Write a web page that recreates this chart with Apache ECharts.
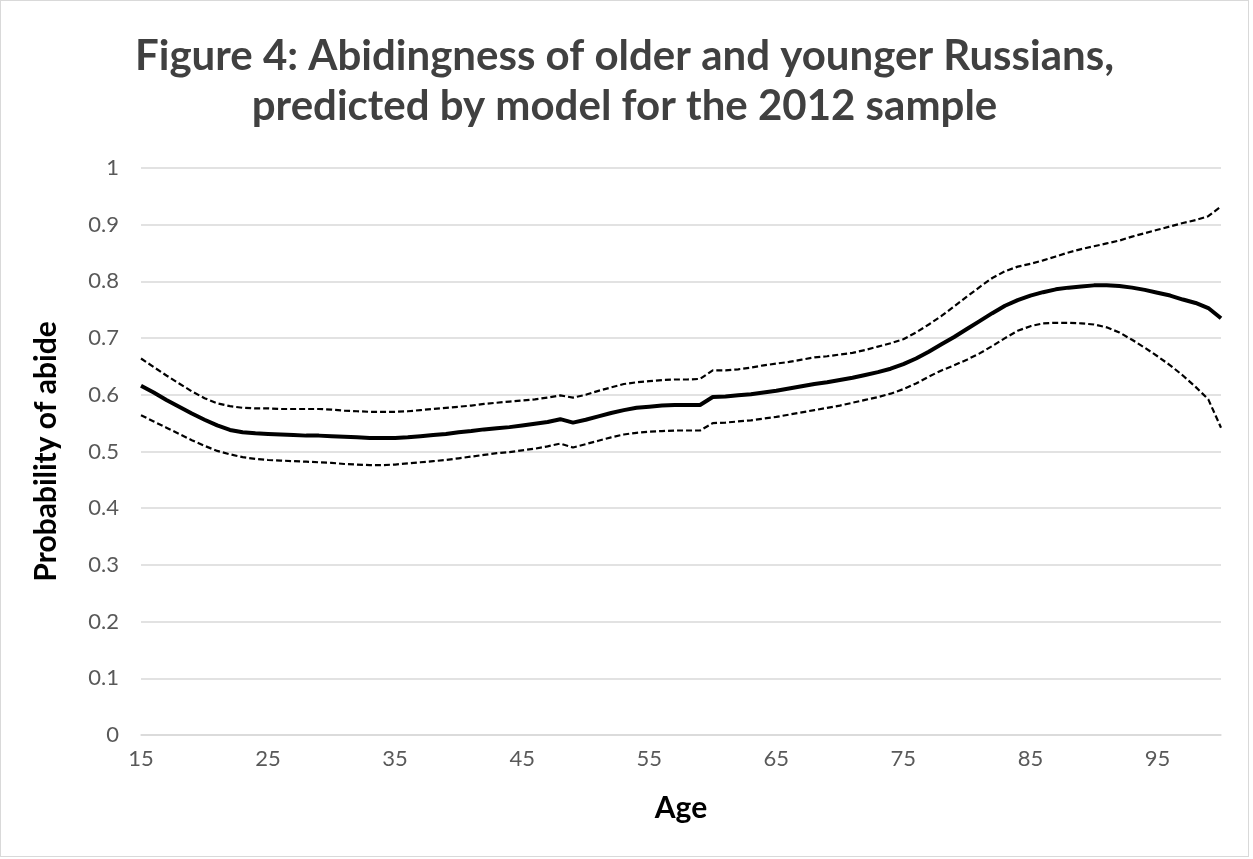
<!DOCTYPE html>
<html lang="en">
<head>
	<meta charset="UTF-8">
	<title>Figure 4: Abidingness of older and younger Russians</title>
	<script src="https://cdn.jsdelivr.net/npm/echarts@6/dist/echarts.min.js"></script>
	<style>
		body { margin: 0; background: #fff; }
		#main { width: 1247px; height: 855px; border: 1px solid #d9d9d9; }
	</style>
</head>
<body>
	<div id="main"></div>
	<script>
		// ages 15..100
		var ages = []
		for (var a = 15; a <= 100; a++) ages.push(String(a))

		// predicted probability
		var predicted = [
			0.616, 0.604, 0.591, 0.579, 0.567, 0.556, 0.546, 0.538, 0.534, 0.532,
			0.531, 0.530, 0.529, 0.528, 0.528, 0.527, 0.526, 0.525, 0.524, 0.524,
			0.524, 0.525, 0.527, 0.529, 0.531, 0.534, 0.536, 0.539, 0.541, 0.543,
			0.546, 0.549, 0.552, 0.557, 0.551, 0.556, 0.562, 0.568, 0.573, 0.577,
			0.579, 0.581, 0.582, 0.582, 0.582, 0.596, 0.597, 0.599, 0.601, 0.604,
			0.607, 0.611, 0.615, 0.619, 0.622, 0.626, 0.630, 0.635, 0.640, 0.646,
			0.654, 0.664, 0.676, 0.689, 0.702, 0.716, 0.730, 0.744, 0.757, 0.767,
			0.775, 0.781, 0.786, 0.789, 0.791, 0.793, 0.793, 0.792, 0.789, 0.785,
			0.780, 0.775, 0.768, 0.762, 0.753, 0.735
		]
		// upper bound
		var upper = [
			0.664, 0.649, 0.634, 0.620, 0.606, 0.594, 0.585, 0.580, 0.577, 0.576,
			0.576, 0.575, 0.575, 0.575, 0.575, 0.574, 0.572, 0.571, 0.570, 0.570,
			0.570, 0.571, 0.573, 0.575, 0.577, 0.579, 0.581, 0.584, 0.586, 0.588,
			0.590, 0.592, 0.595, 0.599, 0.595, 0.600, 0.607, 0.613, 0.619, 0.622,
			0.624, 0.626, 0.627, 0.627, 0.628, 0.643, 0.643, 0.645, 0.648, 0.652,
			0.655, 0.658, 0.662, 0.666, 0.668, 0.671, 0.674, 0.679, 0.685, 0.691,
			0.698, 0.710, 0.724, 0.739, 0.756, 0.773, 0.790, 0.806, 0.818, 0.826,
			0.831, 0.837, 0.844, 0.851, 0.857, 0.862, 0.867, 0.872, 0.879, 0.885,
			0.891, 0.897, 0.903, 0.908, 0.915, 0.932
		]
		// lower bound
		var lower = [
			0.564, 0.553, 0.542, 0.531, 0.520, 0.510, 0.501, 0.495, 0.490, 0.487,
			0.485, 0.484, 0.483, 0.482, 0.481, 0.480, 0.478, 0.477, 0.476, 0.476,
			0.477, 0.479, 0.481, 0.483, 0.485, 0.488, 0.491, 0.494, 0.497, 0.499,
			0.502, 0.505, 0.509, 0.514, 0.507, 0.513, 0.519, 0.525, 0.530, 0.533,
			0.535, 0.536, 0.537, 0.537, 0.537, 0.550, 0.551, 0.553, 0.555, 0.558,
			0.561, 0.565, 0.569, 0.573, 0.577, 0.581, 0.586, 0.591, 0.596, 0.602,
			0.610, 0.620, 0.632, 0.643, 0.652, 0.662, 0.673, 0.686, 0.700, 0.713,
			0.721, 0.726, 0.727, 0.727, 0.726, 0.724, 0.719, 0.710, 0.697, 0.683,
			0.668, 0.652, 0.634, 0.614, 0.592, 0.542
		]

		var font = 'Lato, "Open Sans", sans-serif'
		var myChart = echarts.init(document.getElementById('main'))

		option = {
			animation: false,
			title: {
				text: 'Figure 4: Abidingness of older and younger Russians,\npredicted by model for the 2012 sample',
				left: 'center',
				top: 25,
				textStyle: {
					fontFamily: font,
					fontSize: 42,
					fontWeight: 'bold',
					color: '#404040',
					lineHeight: 50
				}
			},
			grid: {
				left: 140,
				right: 27,
				top: 167,
				bottom: 121
			},
			xAxis: {
				type: 'category',
				data: ages,
				boundaryGap: false,
				name: 'Age',
				nameLocation: 'middle',
				nameGap: 58,
				nameTextStyle: {
					fontFamily: font, fontSize: 30, fontWeight: 'bold', color: '#000'
				},
				axisLine: { lineStyle: { color: '#d9d9d9', width: 1.5 } },
				axisTick: { show: false },
				axisLabel: {
					interval: 9,
					margin: 13,
					fontFamily: font,
					fontSize: 22,
					color: '#595959'
				},
				splitLine: { show: false }
			},
			yAxis: {
				type: 'value',
				min: 0,
				max: 1,
				interval: 0.1,
				name: 'Probability of abide',
				nameLocation: 'middle',
				nameGap: 80,
				nameTextStyle: {
					fontFamily: font, fontSize: 30, fontWeight: 'bold', color: '#000'
				},
				axisLine: { show: false },
				axisTick: { show: false },
				axisLabel: {
					margin: 22,
					fontFamily: font,
					fontSize: 22,
					color: '#595959',
					formatter: function (v) { return String(Math.round(v * 10) / 10) }
				},
				splitLine: { lineStyle: { color: '#d9d9d9', width: 1.5 } }
			},
			series: [
				{
					name: 'Upper',
					type: 'line',
					data: upper,
					symbol: 'none',
					lineStyle: { color: '#000', width: 2.2, type: [6, 3] }
				},
				{
					name: 'Predicted',
					type: 'line',
					data: predicted,
					symbol: 'none',
					lineStyle: { color: '#000', width: 4 }
				},
				{
					name: 'Lower',
					type: 'line',
					data: lower,
					symbol: 'none',
					lineStyle: { color: '#000', width: 2.2, type: [6, 3] }
				}
			]
		}
		myChart.setOption(option)
	</script>
</body>
</html>
